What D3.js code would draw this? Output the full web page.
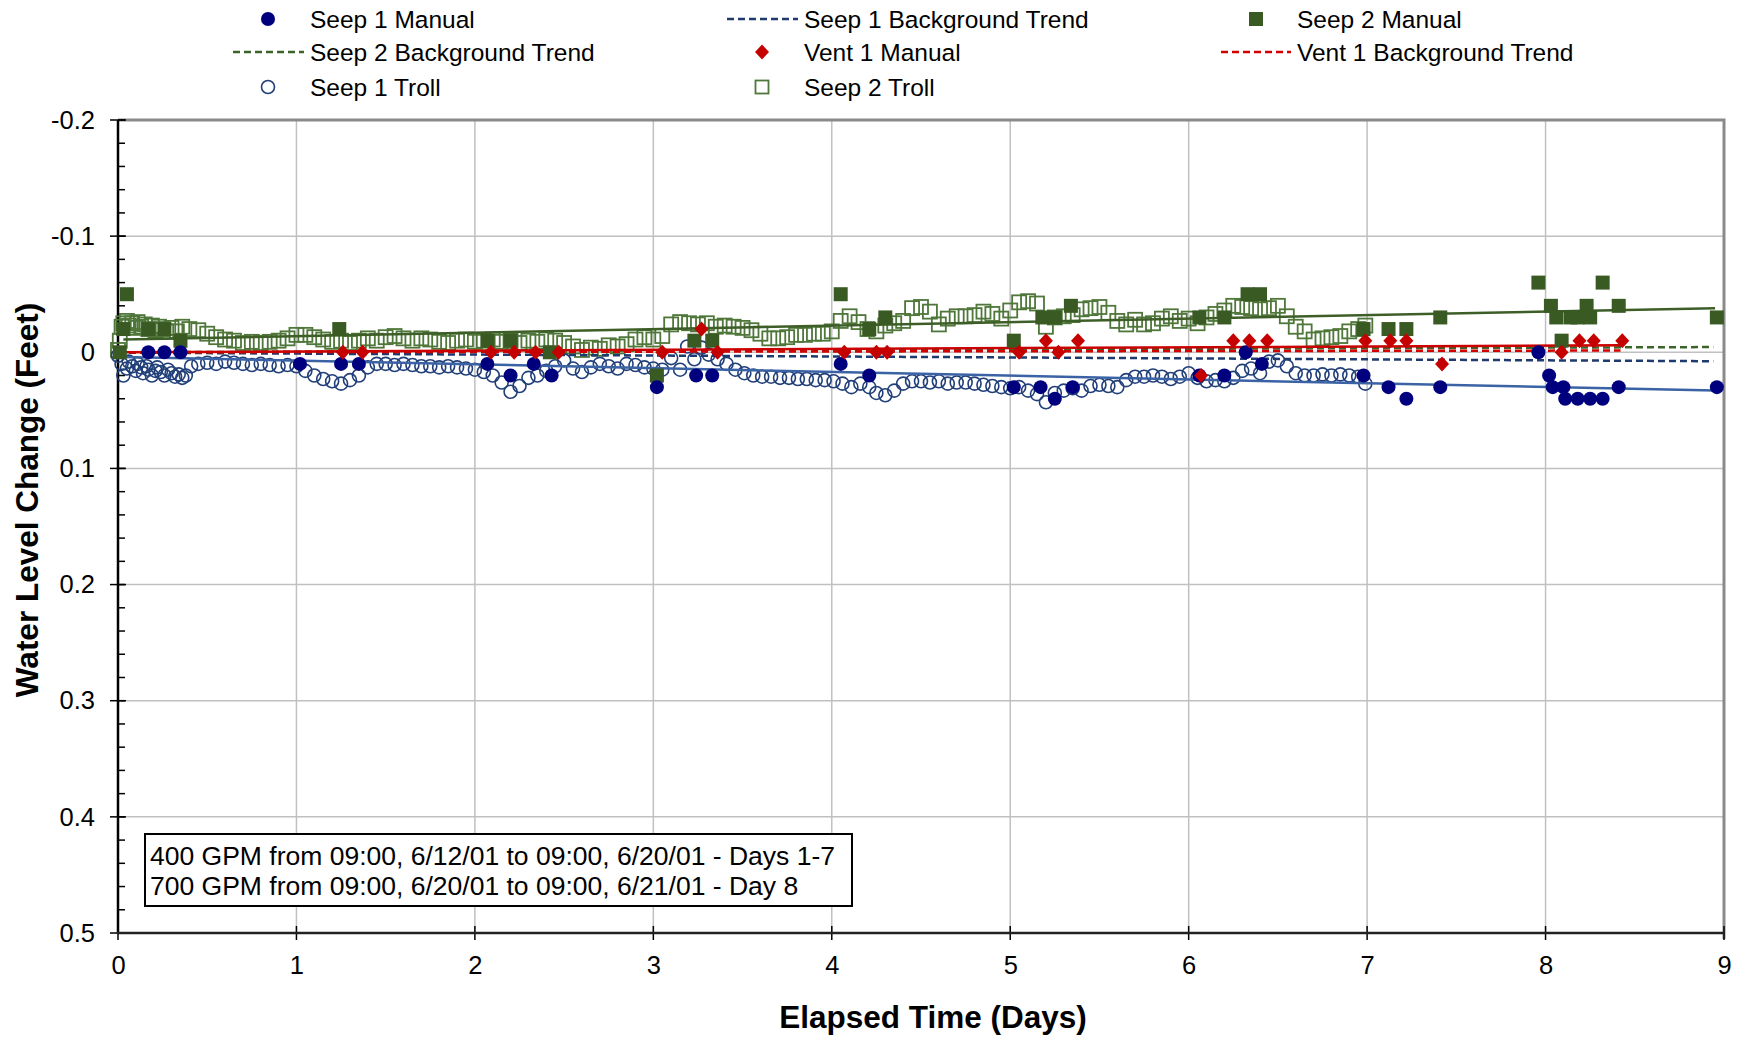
<!DOCTYPE html>
<html>
<head>
<meta charset="utf-8">
<style>
  body { margin: 0; background: #fff; }
  svg text { font-family: "Liberation Sans", Arial, sans-serif; }
</style>
</head>
<body>
<svg width="1741" height="1038"></svg>
<script src="https://d3js.org/d3.v7.min.js"></script>
<script>
// ---- data (elapsed days, water level change in feet; negative = rise) ----
var seep1Manual = [[0.17,0],[0.26,0],[0.35,0],[1.02,0.01],[1.25,0.01],[1.35,0.01],[2.07,0.01],[2.20,0.02],
  [2.33,0.01],[2.43,0.02],[3.02,0.03],[3.24,0.02],[3.33,0.02],[4.05,0.01],[4.21,0.02],[5.02,0.03],[5.17,0.03],
  [5.25,0.04],[5.35,0.03],[6.06,0.02],[6.20,0.02],[6.32,0],[6.41,0.01],[6.98,0.02],[7.12,0.03],[7.22,0.04],
  [7.41,0.03],[7.96,0],[8.02,0.02],[8.04,0.03],[8.10,0.03],[8.11,0.04],[8.18,0.04],[8.25,0.04],[8.32,0.04],
  [8.41,0.03],[8.96,0.03]];

var seep2Manual = [[0.01,0],[0.03,-0.02],[0.05,-0.05],[0.17,-0.02],[0.26,-0.02],[0.35,-0.01],[1.24,-0.02],
  [2.07,-0.01],[2.20,-0.01],[2.42,0],[3.02,0.02],[3.23,-0.01],[3.33,-0.01],[4.05,-0.05],[4.21,-0.02],
  [4.30,-0.03],[5.02,-0.01],[5.18,-0.03],[5.25,-0.03],[5.34,-0.04],[6.06,-0.03],[6.20,-0.03],[6.33,-0.05],
  [6.40,-0.05],[6.98,-0.02],[7.12,-0.02],[7.22,-0.02],[7.41,-0.03],[7.96,-0.06],[8.03,-0.04],[8.06,-0.03],
  [8.09,-0.01],[8.14,-0.03],[8.18,-0.03],[8.23,-0.04],[8.25,-0.03],[8.32,-0.06],[8.41,-0.04],[8.96,-0.03]];

var vent1Manual = [[1.26,0],[1.37,0],[2.09,0],[2.22,0],[2.34,0],[2.47,0],[3.05,0],[3.27,-0.02],[3.36,0],
  [4.07,0],[4.25,0],[4.31,0],[5.05,0],[5.20,-0.01],[5.27,0],[5.38,-0.01],[6.07,0.02],[6.25,-0.01],
  [6.34,-0.01],[6.44,-0.01],[6.99,-0.01],[7.13,-0.01],[7.22,-0.01],[7.42,0.01],[8.09,0],[8.19,-0.01],
  [8.27,-0.01],[8.43,-0.01]];

var seep1Troll = [[0.00,0.003],[0.02,0.010],[0.03,0.020],[0.05,0.014],[0.06,0.008],[0.08,0.012],[0.10,0.016],
  [0.11,0.010],[0.13,0.013],[0.14,0.018],[0.16,0.012],[0.17,0.015],[0.19,0.020],[0.21,0.016],[0.22,0.013],
  [0.24,0.017],[0.26,0.020],[0.28,0.015],[0.30,0.018],[0.32,0.021],[0.34,0.019],[0.36,0.022],[0.38,0.020],
  [0.41,0.012],[0.45,0.010],[0.50,0.009],[0.55,0.010],[0.60,0.008],[0.65,0.009],[0.70,0.010],[0.75,0.011],
  [0.80,0.010],[0.85,0.011],[0.90,0.012],[0.95,0.011],[1.00,0.012],[1.05,0.016],[1.10,0.020],[1.15,0.023],
  [1.20,0.025],[1.25,0.027],[1.30,0.024],[1.35,0.020],[1.40,0.013],[1.45,0.010],[1.50,0.010],[1.55,0.011],
  [1.60,0.010],[1.65,0.011],[1.70,0.012],[1.75,0.012],[1.80,0.013],[1.85,0.012],[1.90,0.013],[1.95,0.014],
  [2.00,0.015],[2.05,0.017],[2.10,0.020],[2.15,0.026],[2.20,0.034],[2.25,0.029],[2.30,0.022],[2.35,0.020],
  [2.40,0.016],[2.45,0.012],[2.50,0.007],[2.55,0.014],[2.60,0.017],[2.65,0.013],[2.70,0.010],[2.75,0.012],
  [2.80,0.014],[2.85,0.010],[2.90,0.011],[2.95,0.013],[3.00,0.014],[3.05,0.015],[3.10,0.005],[3.15,0.015],
  [3.19,-0.005],[3.23,0.006],[3.27,-0.004],[3.31,0.002],[3.36,0.006],[3.41,0.010],[3.46,0.015],[3.51,0.018],
  [3.56,0.020],[3.61,0.021],[3.66,0.021],[3.71,0.022],[3.76,0.022],[3.81,0.023],[3.86,0.023],[3.91,0.024],
  [3.96,0.024],[4.01,0.025],[4.06,0.027],[4.11,0.030],[4.16,0.027],[4.21,0.030],[4.25,0.035],[4.30,0.037],
  [4.35,0.033],[4.40,0.027],[4.45,0.025],[4.50,0.025],[4.55,0.026],[4.60,0.025],[4.65,0.027],[4.70,0.026],
  [4.75,0.026],[4.80,0.027],[4.85,0.028],[4.90,0.029],[4.95,0.030],[5.00,0.031],[5.05,0.030],[5.10,0.033],
  [5.15,0.036],[5.20,0.043],[5.25,0.035],[5.30,0.033],[5.35,0.031],[5.40,0.033],[5.45,0.029],[5.50,0.028],
  [5.55,0.029],[5.60,0.030],[5.65,0.024],[5.70,0.021],[5.75,0.021],[5.80,0.020],[5.85,0.021],[5.90,0.023],
  [5.95,0.021],[6.00,0.018],[6.05,0.022],[6.10,0.025],[6.15,0.024],[6.20,0.025],[6.25,0.022],[6.30,0.016],
  [6.35,0.014],[6.40,0.018],[6.45,0.008],[6.50,0.007],[6.55,0.012],[6.60,0.018],[6.65,0.020],[6.70,0.020],
  [6.75,0.019],[6.80,0.020],[6.85,0.019],[6.90,0.020],[6.95,0.021],[6.99,0.027]];

var seep2Troll = [[0.00,-0.002],[0.01,-0.010],[0.02,-0.022],[0.03,-0.025],[0.05,-0.027],[0.06,-0.023],
  [0.08,-0.025],[0.10,-0.021],[0.11,-0.026],[0.13,-0.022],[0.15,-0.024],[0.17,-0.020],[0.19,-0.023],
  [0.21,-0.019],[0.23,-0.022],[0.25,-0.020],[0.27,-0.018],[0.30,-0.021],[0.33,-0.018],[0.36,-0.022],
  [0.40,-0.020],[0.45,-0.019],[0.50,-0.016],[0.55,-0.013],[0.60,-0.011],[0.65,-0.010],[0.70,-0.008],
  [0.75,-0.009],[0.80,-0.008],[0.85,-0.009],[0.90,-0.010],[0.95,-0.012],[1.00,-0.015],[1.05,-0.015],
  [1.10,-0.013],[1.15,-0.011],[1.20,-0.009],[1.25,-0.010],[1.30,-0.008],[1.35,-0.010],[1.40,-0.012],
  [1.45,-0.010],[1.50,-0.013],[1.55,-0.014],[1.60,-0.012],[1.65,-0.010],[1.70,-0.012],[1.75,-0.011],
  [1.80,-0.009],[1.85,-0.008],[1.90,-0.010],[1.95,-0.011],[2.00,-0.009],[2.05,-0.010],[2.10,-0.011],
  [2.15,-0.009],[2.20,-0.010],[2.25,-0.008],[2.30,-0.010],[2.35,-0.009],[2.40,-0.011],[2.45,-0.010],
  [2.50,-0.008],[2.55,-0.005],[2.60,-0.002],[2.65,-0.004],[2.70,-0.003],[2.75,-0.006],[2.80,-0.005],
  [2.85,-0.007],[2.90,-0.011],[2.95,-0.013],[3.00,-0.011],[3.05,-0.014],[3.10,-0.024],[3.15,-0.026],
  [3.20,-0.025],[3.25,-0.024],[3.30,-0.025],[3.35,-0.022],[3.40,-0.023],[3.45,-0.022],[3.50,-0.021],
  [3.55,-0.019],[3.60,-0.016],[3.65,-0.012],[3.70,-0.012],[3.75,-0.013],[3.80,-0.015],[3.85,-0.015],
  [3.90,-0.016],[3.95,-0.016],[4.00,-0.018],[4.05,-0.027],[4.10,-0.031],[4.15,-0.026],[4.20,-0.020],
  [4.25,-0.018],[4.30,-0.023],[4.35,-0.025],[4.40,-0.027],[4.45,-0.038],[4.50,-0.039],[4.55,-0.035],
  [4.60,-0.024],[4.65,-0.029],[4.70,-0.031],[4.75,-0.031],[4.80,-0.032],[4.85,-0.035],[4.90,-0.033],
  [4.95,-0.029],[5.00,-0.036],[5.05,-0.043],[5.10,-0.044],[5.15,-0.042],[5.20,-0.022],[5.25,-0.030],
  [5.30,-0.031],[5.35,-0.032],[5.40,-0.037],[5.45,-0.038],[5.50,-0.039],[5.55,-0.034],[5.60,-0.027],
  [5.65,-0.024],[5.70,-0.028],[5.75,-0.024],[5.80,-0.025],[5.85,-0.029],[5.90,-0.031],[5.95,-0.027],
  [6.00,-0.029],[6.05,-0.025],[6.10,-0.030],[6.15,-0.033],[6.20,-0.036],[6.25,-0.040],[6.30,-0.039],
  [6.35,-0.038],[6.40,-0.037],[6.45,-0.038],[6.50,-0.040],[6.55,-0.031],[6.60,-0.022],[6.65,-0.018],
  [6.70,-0.011],[6.75,-0.012],[6.80,-0.013],[6.85,-0.014],[6.90,-0.018],[6.95,-0.020],[6.99,-0.023]];

// trend lines (end points)
var seep1Trend = [[0.03,0.004],[8.95,0.033]];
var seep2Trend = [[0.03,-0.011],[8.95,-0.038]];
var vent1Trend = [[0.00,0.000],[8.42,-0.006]];
var seep1Background = [[0.00,0.0003],[8.94,0.0077]];
var seep2Background = [[0.00,0.000],[8.94,-0.0045]];
var vent1Background = [[0.00,0.000],[8.42,-0.0015]];

var xTicks = [0,1,2,3,4,5,6,7,8,9];
var yTicks = [-0.2,-0.1,0,0.1,0.2,0.3,0.4,0.5];
var yTickLabels = ["-0.2","-0.1","0","0.1","0.2","0.3","0.4","0.5"];
var yMinorTicks = d3.range(-0.2, 0.5001, 0.02);
var noteLines = ["400 GPM from 09:00, 6/12/01 to 09:00, 6/20/01 - Days 1-7",
                 "700 GPM from 09:00, 6/20/01 to 09:00, 6/21/01 - Day 8"];

var svg = d3.select("svg"),
    pLeft = 118, pRight = 1724, pTop = 120, pBottom = 933;

var x = d3.scaleLinear().domain([0, 9]).range([pLeft, pRight]);
var y = d3.scaleLinear().domain([-0.2, 0.5]).range([pTop, pBottom]);

var colors = {
  s1: "#00007f", s1troll: "#213f78", s1trend: "#3a62a4", s1bg: "#1f3a6e",
  s2: "#3a5a24", s2troll: "#4f773a", s2trend: "#3e5e28", s2bg: "#3d6428",
  v1: "#c40000", v1trend: "#cc0000", v1bg: "#d40000"
};

// grid
var grid = svg.append("g");
grid.selectAll(".vg").data(xTicks.slice(1, -1)).enter().append("line")
    .attr("x1", d => x(d)).attr("x2", d => x(d)).attr("y1", pTop).attr("y2", pBottom)
    .attr("stroke", "#c0c0c0").attr("stroke-width", 1.5);
grid.selectAll(".hg").data(yTicks.slice(1, -1)).enter().append("line")
    .attr("x1", pLeft).attr("x2", pRight).attr("y1", d => y(d)).attr("y2", d => y(d))
    .attr("stroke", "#c0c0c0").attr("stroke-width", 1.5);

// top / right frame
svg.append("path")
    .attr("d", "M" + pLeft + "," + pTop + "H" + pRight + "V" + (pBottom + 6))
    .attr("fill", "none").attr("stroke", "#8a8a8a").attr("stroke-width", 3);

// axes
var yAxis = svg.append("g").attr("transform", "translate(" + pLeft + ",0)")
    .call(d3.axisLeft(y).tickValues(yTicks).tickSize(0).tickFormat((d, i) => yTickLabels[i]));
yAxis.select(".domain").remove();
yAxis.selectAll("text").attr("x", -23).style("font-size", "25.5px")
    .style("font-family", "Liberation Sans, Arial").attr("fill", "#000");

svg.append("g").selectAll("line").data(yMinorTicks).enter().append("line")
    .attr("x1", pLeft).attr("x2", pLeft + 7).attr("y1", d => y(d)).attr("y2", d => y(d))
    .attr("stroke", "#000").attr("stroke-width", 1.5);
svg.append("g").selectAll("line").data(yTicks).enter().append("line")
    .attr("x1", pLeft - 8).attr("x2", pLeft + 8).attr("y1", d => y(d)).attr("y2", d => y(d))
    .attr("stroke", "#000").attr("stroke-width", 1.5);

var xAxis = svg.append("g").attr("transform", "translate(0," + pBottom + ")")
    .call(d3.axisBottom(x).tickValues(xTicks).tickSize(0).tickFormat(d3.format("d")));
xAxis.select(".domain").remove();
xAxis.selectAll("text").attr("y", 23).style("font-size", "25.5px")
    .style("font-family", "Liberation Sans, Arial").attr("fill", "#000");
svg.append("g").selectAll("line").data(xTicks).enter().append("line")
    .attr("x1", d => x(d)).attr("x2", d => x(d)).attr("y1", pBottom - 7).attr("y2", pBottom + 7)
    .attr("stroke", "#000").attr("stroke-width", 1.5);

svg.append("line").attr("x1", pLeft).attr("x2", pLeft).attr("y1", pTop).attr("y2", pBottom + 1)
    .attr("stroke", "#000").attr("stroke-width", 2.5);
svg.append("line").attr("x1", pLeft - 1).attr("x2", pRight).attr("y1", pBottom).attr("y2", pBottom)
    .attr("stroke", "#222").attr("stroke-width", 2.5);

// axis titles
svg.append("text").attr("x", 933).attr("y", 1028).attr("text-anchor", "middle")
    .style("font-size", "31.5px").style("font-weight", "bold").text("Elapsed Time (Days)");
svg.append("text").attr("transform", "translate(38,500) rotate(-90)").attr("text-anchor", "middle")
    .style("font-size", "31.5px").style("font-weight", "bold").text("Water Level Change (Feet)");

// plot layer
var plot = svg.append("g");
var line = d3.line().x(d => x(d[0])).y(d => y(d[1]));

// troll series (open markers)
plot.append("g").selectAll("rect").data(seep2Troll).enter().append("rect")
    .attr("x", d => x(d[0]) - 7).attr("y", d => y(d[1]) - 7)
    .attr("width", 14).attr("height", 14)
    .attr("fill", "none").attr("stroke", colors.s2troll).attr("stroke-width", 1.8);
plot.append("g").selectAll("circle").data(seep1Troll).enter().append("circle")
    .attr("cx", d => x(d[0])).attr("cy", d => y(d[1])).attr("r", 6.5)
    .attr("fill", "none").attr("stroke", colors.s1troll).attr("stroke-width", 1.6);

// background trends (dashed)
[[seep1Background, colors.s1bg], [seep2Background, colors.s2bg], [vent1Background, colors.v1bg]]
  .forEach(function(p) {
    plot.append("path").attr("d", line(p[0])).attr("fill", "none")
        .attr("stroke", p[1]).attr("stroke-width", 2.5).attr("stroke-dasharray", "7,4");
  });

// fitted trends (solid)
[[seep1Trend, colors.s1trend], [seep2Trend, colors.s2trend], [vent1Trend, colors.v1trend]]
  .forEach(function(p) {
    plot.append("path").attr("d", line(p[0])).attr("fill", "none")
        .attr("stroke", p[1]).attr("stroke-width", 2.5);
  });

// manual readings
plot.append("g").selectAll("rect").data(seep2Manual).enter().append("rect")
    .attr("x", d => x(d[0]) - 7).attr("y", d => y(d[1]) - 7)
    .attr("width", 14).attr("height", 14).attr("fill", colors.s2);
plot.append("g").selectAll("circle").data(seep1Manual).enter().append("circle")
    .attr("cx", d => x(d[0])).attr("cy", d => y(d[1])).attr("r", 7).attr("fill", colors.s1);
var diamond = "M0,-7.5L7,0L0,7.5L-7,0Z";
plot.append("g").selectAll("path").data(vent1Manual).enter().append("path")
    .attr("d", diamond).attr("transform", d => "translate(" + x(d[0]) + "," + y(d[1]) + ")")
    .attr("fill", colors.v1);

// note box
var note = svg.append("g");
note.append("rect").attr("x", 145).attr("y", 834).attr("width", 707).attr("height", 72)
    .attr("fill", "#fff").attr("stroke", "#000").attr("stroke-width", 2);
note.selectAll("text").data(noteLines).enter().append("text")
    .attr("x", 150).attr("y", (d, i) => 865 + i * 30)
    .style("font-size", "26.5px").text(d => d);

// legend
var legendItems = [
  {label: "Seep 1 Manual", type: "dot", color: colors.s1, mx: 268, tx: 310, row: 0},
  {label: "Seep 1 Background Trend", type: "dash", color: colors.s1bg, mx: 762, tx: 804, row: 0},
  {label: "Seep 2 Manual", type: "square", color: colors.s2, mx: 1256, tx: 1297, row: 0},
  {label: "Seep 2 Background Trend", type: "dash", color: colors.s2bg, mx: 268, tx: 310, row: 1},
  {label: "Vent 1 Manual", type: "diamond", color: colors.v1, mx: 762, tx: 804, row: 1},
  {label: "Vent 1 Background Trend", type: "dash", color: colors.v1bg, mx: 1256, tx: 1297, row: 1},
  {label: "Seep 1 Troll", type: "ring", color: colors.s1troll, mx: 268, tx: 310, row: 2},
  {label: "Seep 2 Troll", type: "box", color: colors.s2troll, mx: 762, tx: 804, row: 2}
];
var rowY = [19, 52, 87];
var legend = svg.append("g");
legendItems.forEach(function(it) {
  var cy = rowY[it.row], g = legend.append("g");
  if (it.type === "dot") g.append("circle").attr("cx", it.mx).attr("cy", cy).attr("r", 7).attr("fill", it.color);
  if (it.type === "ring") g.append("circle").attr("cx", it.mx).attr("cy", cy).attr("r", 6.5)
      .attr("fill", "none").attr("stroke", it.color).attr("stroke-width", 1.6);
  if (it.type === "square") g.append("rect").attr("x", it.mx - 7).attr("y", cy - 7)
      .attr("width", 14).attr("height", 14).attr("fill", it.color);
  if (it.type === "box") g.append("rect").attr("x", it.mx - 6.5).attr("y", cy - 6.5)
      .attr("width", 13).attr("height", 13).attr("fill", "none").attr("stroke", it.color).attr("stroke-width", 1.8);
  if (it.type === "diamond") g.append("path").attr("d", diamond)
      .attr("transform", "translate(" + it.mx + "," + cy + ")").attr("fill", it.color);
  if (it.type === "dash") g.append("line").attr("x1", it.mx - 35).attr("x2", it.tx - 6)
      .attr("y1", cy).attr("y2", cy).attr("stroke", it.color).attr("stroke-width", 2.5)
      .attr("stroke-dasharray", "7,4");
  g.append("text").attr("x", it.tx).attr("y", cy).attr("dy", "0.36em")
      .style("font-size", "24.5px").text(it.label);
});
</script>
</body>
</html>
